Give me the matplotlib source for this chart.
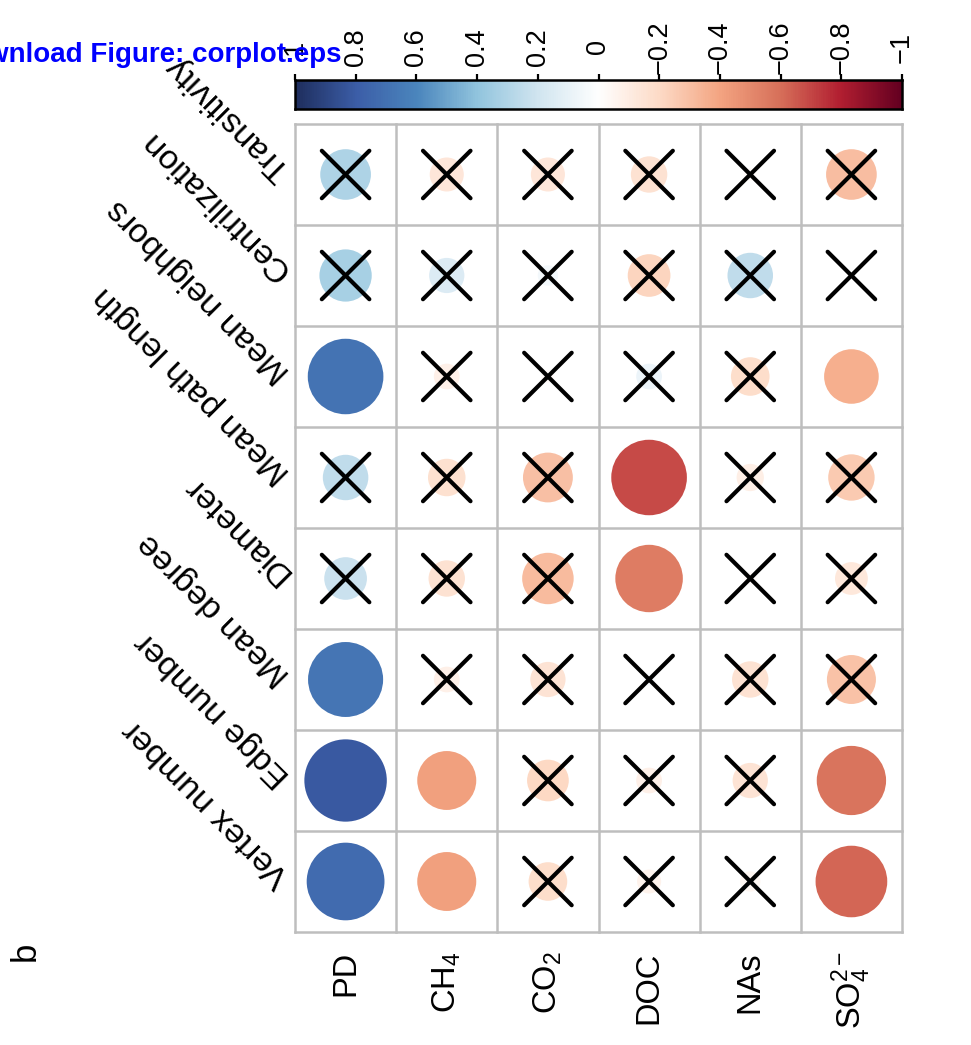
import numpy as np
import matplotlib
matplotlib.use("Agg")
import matplotlib.pyplot as plt
from matplotlib.patches import Circle
from matplotlib.colors import LinearSegmentedColormap
from matplotlib.transforms import blended_transform_factory

plt.rcParams['font.family'] = ['Liberation Sans', 'DejaVu Sans']
plt.rcParams['mathtext.fontset'] = 'custom'
plt.rcParams['mathtext.rm'] = 'Liberation Sans'
plt.rcParams['mathtext.it'] = 'Liberation Sans:italic'

# ---- data: correlation of environment factors vs network properties ----
env_labels = ["PD", r"CH$_4$", r"CO$_2$", "DOC", "NAs", r"SO$_4^{2-}$"]
net_labels = ["Vertex number", "Edge number", "Mean degree", "Diameter",
              "Mean path length", "Mean neighbors", "Centrilization", "Transitivity"]

# one list per network property, columns follow env_labels
r_vertex = [0.73, -0.42, -0.18, -0.07, -0.05, -0.62]
r_edge = [0.82, -0.42, -0.21, -0.08, -0.15, -0.58]
r_degree = [0.68, -0.08, -0.15, 0.02, -0.16, -0.29]
r_diameter = [0.22, -0.16, -0.32, -0.55, -0.02, -0.13]
r_pathlen = [0.25, -0.17, -0.30, -0.69, -0.09, -0.26]
r_neighbors = [0.69, -0.08, -0.02, 0.08, -0.18, -0.36]
r_central = [0.33, 0.15, 0.05, -0.22, 0.25, 0.00]
r_transit = [0.31, -0.14, -0.14, -0.16, -0.02, -0.31]

# 1 = not significant (crossed out)
ns_vertex = [0, 0, 1, 1, 1, 0]
ns_edge = [0, 0, 1, 1, 1, 0]
ns_degree = [0, 1, 1, 1, 1, 1]
ns_diameter = [1, 1, 1, 0, 1, 1]
ns_pathlen = [1, 1, 1, 0, 1, 1]
ns_neighbors = [0, 1, 1, 1, 1, 0]
ns_central = [1, 1, 1, 1, 1, 1]
ns_transit = [1, 1, 1, 1, 1, 1]

cbar_ticks = [1, 0.8, 0.6, 0.4, 0.2, 0, -0.2, -0.4, -0.6, -0.8, -1]

corr = np.array([r_vertex, r_edge, r_degree, r_diameter,
                 r_pathlen, r_neighbors, r_central, r_transit])
nonsig = np.array([ns_vertex, ns_edge, ns_degree, ns_diameter,
                   ns_pathlen, ns_neighbors, ns_central, ns_transit])

# red-white-blue palette (value -1 .. 1)
cmap = LinearSegmentedColormap.from_list("rdbu", [
    "#650021", "#b21f31", "#d7705a", "#f4a582", "#fddbc7", "#ffffff",
    "#d1e5f0", "#92c5de", "#4b86bd", "#3c5ea8", "#1f2f5f"])

W, H = 971, 1045
fig = plt.figure(figsize=(W / 100, H / 100), dpi=100)

gx0, gx1, gy0, gy1 = 295, 902, 124, 932
ax = fig.add_axes([gx0 / W, 1 - gy1 / H, (gx1 - gx0) / W, (gy1 - gy0) / H])
ncol, nrow = len(env_labels), len(net_labels)
ax.set_xlim(0, ncol)
ax.set_ylim(0, nrow)
ax.axis("off")

for i in range(nrow):
    for j in range(ncol):
        v = corr[i, j]
        rad = 0.45 * np.sqrt(abs(v))
        ax.add_patch(Circle((j + 0.5, i + 0.5), rad, color=cmap((v + 1) / 2), lw=0))
        if nonsig[i, j]:
            d = 0.235
            ax.plot([j + 0.5 - d, j + 0.5 + d], [i + 0.5 - d, i + 0.5 + d],
                    color="black", lw=3, solid_capstyle="round")
            ax.plot([j + 0.5 - d, j + 0.5 + d], [i + 0.5 + d, i + 0.5 - d],
                    color="black", lw=3, solid_capstyle="round")

# grid
for k in range(ncol + 1):
    ax.plot([k, k], [0, nrow], color="#bebebe", lw=1.8, clip_on=False)
for k in range(nrow + 1):
    ax.plot([0, ncol], [k, k], color="#bebebe", lw=1.8, clip_on=False)

# labels
for j, lab in enumerate(env_labels):
    ax.text(j + 0.5, -0.19, lab, rotation=90, rotation_mode="anchor",
            ha="right", va="center", fontsize=23.5, clip_on=False)
for i, lab in enumerate(net_labels):
    ax.text(-0.1, i + 0.5, lab, rotation=135, rotation_mode="anchor",
            ha="left", va="center", fontsize=24.5, clip_on=False)

# colour bar
cx0, cx1, cy0, cy1 = 295, 902, 80, 109
cax = fig.add_axes([cx0 / W, 1 - cy1 / H, (cx1 - cx0) / W, (cy1 - cy0) / H])
grad = np.linspace(1, -1, 600)
cax.imshow(grad[None, :], extent=(1, -1, 0, 1), cmap=cmap, vmin=-1, vmax=1,
           aspect="auto", interpolation="bilinear")
cax.set_xlim(1, -1)
cax.set_ylim(0, 1)
cax.set_yticks([])
cax.xaxis.set_ticks_position("top")
cax.set_xticks(cbar_ticks)
cax.set_xticklabels([])
cax.tick_params(axis="x", length=4, width=1.6, color="black")
for s in cax.spines.values():
    s.set_linewidth(1.8)
tr = blended_transform_factory(cax.transData, cax.transAxes)
for t in cbar_ticks:
    lab = "0" if t == 0 else ("%g" % t).replace("-", "\u2212")
    cax.text(t, 1 + 33 / 29, lab, transform=tr, rotation=90,
             ha="center", va="center", fontsize=19.5, clip_on=False)

fig.text(25 / W, 1 - 951 / H, "b", rotation=90, ha="center", va="center", fontsize=25)
fig.text(341 / W, 1 - 55 / H, "Download Figure: corplot.eps", ha="right", va="center",
         color="#0000ff", fontweight="bold", fontsize=20)

fig.savefig("out.png", dpi=100)
